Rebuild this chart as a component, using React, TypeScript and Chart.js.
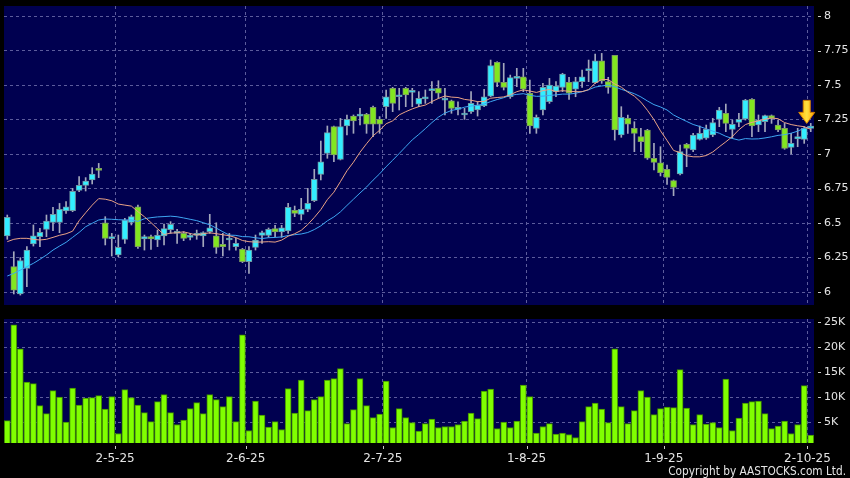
import React, { useEffect, useRef } from 'react';
import { Chart, registerables } from 'chart.js';

Chart.register(...registerables);

// ---- data ----
const opens = [6.406, 6.184, 5.986, 6.171, 6.348, 6.401, 6.454, 6.505, 6.505, 6.587, 6.589, 6.737, 6.773, 6.812, 6.896, 6.502, 6.386, 6.268, 6.382, 6.505,
  6.618, 6.384, 6.401, 6.377, 6.406, 6.452, 6.425, 6.425, 6.396, 6.411, 6.406, 6.437, 6.408, 6.345, 6.377, 6.329, 6.309, 6.220, 6.324, 6.411,
  6.411, 6.459, 6.435, 6.442, 6.592, 6.563, 6.599, 6.662, 6.853, 7.005, 7.198, 6.961, 7.203, 7.275, 7.275, 7.287, 7.338, 7.251, 7.343, 7.476,
  7.415, 7.476, 7.447, 7.362, 7.399, 7.459, 7.476, 7.391, 7.386, 7.324, 7.283, 7.307, 7.319, 7.348, 7.420, 7.664, 7.519, 7.415, 7.548, 7.560,
  7.440, 7.186, 7.319, 7.379, 7.452, 7.483, 7.519, 7.469, 7.524, 7.604, 7.517, 7.676, 7.524, 7.715, 7.138, 7.258, 7.186, 7.126, 7.174, 6.969,
  6.937, 6.889, 6.807, 6.855, 7.070, 7.029, 7.106, 7.114, 7.138, 7.251, 7.295, 7.179, 7.229, 7.254, 7.396, 7.210, 7.234, 7.278, 7.210, 7.186,
  7.048, 7.109, 7.106, 7.186];
const highs = [6.558, 6.292, 6.249, 6.329, 6.486, 6.461, 6.558, 6.614, 6.642, 6.655, 6.751, 6.836, 6.829, 6.901, 6.932, 6.546, 6.425, 6.413, 6.534, 6.558,
  6.630, 6.413, 6.413, 6.449, 6.493, 6.510, 6.454, 6.437, 6.425, 6.449, 6.437, 6.563, 6.502, 6.425, 6.425, 6.389, 6.316, 6.329, 6.413, 6.442,
  6.464, 6.483, 6.483, 6.642, 6.623, 6.679, 6.751, 6.889, 7.094, 7.203, 7.203, 7.258, 7.283, 7.283, 7.331, 7.295, 7.348, 7.271, 7.464, 7.483,
  7.476, 7.483, 7.476, 7.452, 7.464, 7.524, 7.531, 7.476, 7.391, 7.379, 7.331, 7.452, 7.379, 7.469, 7.681, 7.669, 7.657, 7.572, 7.621, 7.621,
  7.536, 7.283, 7.512, 7.548, 7.524, 7.585, 7.556, 7.556, 7.609, 7.681, 7.725, 7.729, 7.556, 7.715, 7.343, 7.283, 7.234, 7.186, 7.179, 7.077,
  7.053, 6.920, 6.812, 7.065, 7.077, 7.150, 7.203, 7.210, 7.258, 7.338, 7.362, 7.246, 7.295, 7.396, 7.401, 7.283, 7.283, 7.283, 7.246, 7.222,
  7.150, 7.186, 7.198, 7.222];
const lows = [6.382, 5.986, 5.978, 6.039, 6.333, 6.329, 6.401, 6.444, 6.430, 6.570, 6.582, 6.727, 6.732, 6.783, 6.829, 6.341, 6.261, 6.256, 6.353, 6.486,
  6.316, 6.304, 6.309, 6.329, 6.341, 6.425, 6.353, 6.372, 6.377, 6.382, 6.329, 6.425, 6.280, 6.261, 6.304, 6.304, 6.213, 6.135, 6.304, 6.353,
  6.396, 6.401, 6.396, 6.425, 6.546, 6.522, 6.582, 6.655, 6.812, 6.969, 6.944, 6.957, 7.138, 7.150, 7.210, 7.150, 7.126, 7.150, 7.258, 7.307,
  7.319, 7.343, 7.343, 7.343, 7.367, 7.367, 7.403, 7.283, 7.295, 7.283, 7.251, 7.295, 7.275, 7.343, 7.415, 7.488, 7.464, 7.403, 7.488, 7.452,
  7.150, 7.150, 7.283, 7.367, 7.415, 7.452, 7.396, 7.415, 7.483, 7.524, 7.512, 7.512, 7.440, 7.101, 7.121, 7.150, 7.017, 7.017, 6.961, 6.884,
  6.841, 6.780, 6.698, 6.848, 6.908, 7.017, 7.101, 7.106, 7.126, 7.198, 7.162, 7.114, 7.198, 7.246, 7.126, 7.162, 7.162, 7.222, 7.162, 7.034,
  7.000, 7.053, 7.077, 7.162];
const closes = [6.541, 6.014, 6.227, 6.304, 6.408, 6.432, 6.514, 6.563, 6.599, 6.618, 6.729, 6.773, 6.804, 6.855, 6.882, 6.389, 6.401, 6.324, 6.522, 6.546,
  6.329, 6.401, 6.384, 6.411, 6.459, 6.490, 6.430, 6.389, 6.406, 6.425, 6.430, 6.466, 6.324, 6.329, 6.391, 6.353, 6.220, 6.304, 6.377, 6.430,
  6.454, 6.435, 6.466, 6.614, 6.570, 6.599, 6.643, 6.816, 6.944, 7.155, 6.993, 7.198, 7.251, 7.239, 7.290, 7.217, 7.217, 7.217, 7.415, 7.367,
  7.425, 7.428, 7.454, 7.403, 7.406, 7.469, 7.440, 7.401, 7.331, 7.338, 7.287, 7.367, 7.355, 7.415, 7.640, 7.519, 7.483, 7.553, 7.560, 7.469,
  7.203, 7.266, 7.483, 7.500, 7.493, 7.580, 7.440, 7.524, 7.560, 7.614, 7.676, 7.529, 7.483, 7.174, 7.266, 7.217, 7.150, 7.089, 6.969, 6.940,
  6.865, 6.831, 6.758, 7.017, 7.041, 7.138, 7.150, 7.179, 7.227, 7.319, 7.222, 7.215, 7.251, 7.391, 7.203, 7.246, 7.278, 7.258, 7.174, 7.041,
  7.077, 7.126, 7.186, 7.203];
// volume in thousands
const volumes = [5.3, 24.5, 19.7, 13.0, 12.7, 8.3, 6.7, 11.3, 10.0, 5.0, 11.8, 8.4, 9.8, 9.9, 10.3, 7.6, 10.1, 2.7, 11.5, 9.9,
  8.4, 6.9, 5.1, 9.1, 10.5, 6.9, 4.5, 5.4, 7.7, 8.9, 6.7, 10.5, 9.5, 8.1, 10.1, 5.1, 22.5, 3.3, 9.2, 6.4,
  4.0, 5.1, 3.5, 11.7, 6.8, 13.4, 7.3, 9.5, 10.1, 13.4, 13.7, 15.7, 4.7, 7.5, 13.7, 8.3, 5.9, 6.6, 13.2, 3.9,
  7.7, 5.9, 4.9, 3.2, 4.7, 5.6, 3.9, 4.1, 4.1, 4.5, 5.2, 6.8, 5.7, 11.2, 11.6, 3.7, 5.0, 3.9, 5.2, 12.4,
  10.1, 2.8, 4.1, 4.7, 2.6, 2.8, 2.5, 1.9, 5.1, 8.1, 8.8, 7.6, 4.9, 19.7, 8.1, 4.7, 7.3, 11.3, 10.0, 6.5,
  7.7, 8.0, 7.9, 15.5, 7.8, 4.5, 6.5, 4.6, 4.9, 3.9, 13.6, 3.3, 5.8, 8.8, 9.1, 9.2, 6.7, 3.7, 4.2, 5.2,
  2.7, 4.5, 12.3, 2.4];
// moving-average values at the window start (earlier closes are off-chart)
const ma10Head = [6.365, 6.382, 6.389, 6.389, 6.382, 6.377, 6.382, 6.396, 6.411];
const ma20Head = [6.116, 6.135, 6.159, 6.184, 6.208, 6.237, 6.268, 6.304, 6.333, 6.360, 6.396, 6.432, 6.473, 6.498, 6.522, 6.529, 6.527, 6.524, 6.522];

const tickIndex = [17, 37, 58, 80, 101, 123];
const tickText = ['2-5-25', '2-6-25', '2-7-25', '1-8-25', '1-9-25', '2-10-25'];
const priceTicks = [6, 6.25, 6.5, 6.75, 7, 7.25, 7.5, 7.75, 8];
const volumeTicks = [5, 10, 15, 20, 25];

// ---- styles ----
const NAVY = '#000050';
const GRID = '#5c5c9c';
const TEXT = '#e4e4e4';
const UP = '#33eeff';
const UP_EDGE = '#6f97a3';
const DOWN = '#82e620';
const DOWN_EDGE = '#7d9a62';
const WICK = '#a4a8bc';
const FONT = '"DejaVu Sans", sans-serif';

function movingAverage(n: number, head: number[]) {
  return closes.map((_, i) => {
    if (i < head.length) return head[i];
    let s = 0;
    for (let k = i - n + 1; k <= i; k++) s += closes[k];
    return s / n;
  });
}

const navyBg = {
  id: 'navyBg',
  beforeDraw(chart: any) {
    const { ctx, chartArea: a } = chart;
    ctx.save();
    ctx.fillStyle = NAVY;
    ctx.fillRect(a.left, a.top, a.right - a.left, a.bottom - a.top);
    ctx.restore();
  },
};

const yDashes = {
  id: 'yDashes',
  afterDraw(chart: any) {
    const { ctx, chartArea: a } = chart;
    const ys = chart.scales.y;
    ctx.save();
    ctx.strokeStyle = '#c8c8c8';
    ctx.lineWidth = 1;
    ys.ticks.forEach((t: any) => {
      const py = Math.round(ys.getPixelForValue(t.value)) + 0.5;
      ctx.beginPath();
      ctx.moveTo(a.right + 4, py);
      ctx.lineTo(a.right + 7, py);
      ctx.stroke();
    });
    ctx.restore();
  },
};

const xDashes = {
  id: 'xDashes',
  afterDraw(chart: any) {
    const { ctx, chartArea: a } = chart;
    const xs = chart.scales.x;
    ctx.save();
    ctx.strokeStyle = '#c8c8c8';
    ctx.lineWidth = 1;
    xs.ticks.forEach((t: any) => {
      const px = Math.round(xs.getPixelForValue(t.value)) + 0.5;
      ctx.beginPath();
      ctx.moveTo(px, a.bottom + 3);
      ctx.lineTo(px, a.bottom + 6);
      ctx.stroke();
    });
    ctx.restore();
  },
};

const arrowMark = {
  id: 'arrowMark',
  afterDatasetsDraw(chart: any) {
    const { ctx } = chart;
    const xs = chart.scales.x;
    const ys = chart.scales.y;
    const i = closes.length - 1;
    const cx = xs.getPixelForValue(i) - 4;
    const tip = ys.getPixelForValue(highs[i]);
    ctx.save();
    const g = ctx.createLinearGradient(cx - 8, 0, cx + 8, 0);
    g.addColorStop(0, '#ffb000');
    g.addColorStop(0.5, '#ffe040');
    g.addColorStop(1, '#ffa000');
    ctx.beginPath();
    ctx.moveTo(cx - 3.5, tip - 23);
    ctx.lineTo(cx + 3.5, tip - 23);
    ctx.lineTo(cx + 3.5, tip - 11);
    ctx.lineTo(cx + 8, tip - 11);
    ctx.lineTo(cx, tip);
    ctx.lineTo(cx - 8, tip - 11);
    ctx.lineTo(cx - 3.5, tip - 11);
    ctx.closePath();
    ctx.fillStyle = g;
    ctx.fill();
    ctx.strokeStyle = '#d88400';
    ctx.lineWidth = 1;
    ctx.stroke();
    ctx.restore();
  },
};

const xMonthTicks = (s: any) => {
  s.ticks = tickIndex.map((v) => ({ value: v - 0.5 }));
};

const gridOpts = { color: GRID, drawTicks: false, lineWidth: 1, offset: false };

export default function App() {
  const priceRef = useRef<HTMLCanvasElement | null>(null);
  const volRef = useRef<HTMLCanvasElement | null>(null);

  useEffect(() => {
    const ma10 = movingAverage(10, ma10Head);
    const ma20 = movingAverage(20, ma20Head);
    const isUp = closes.map((c, i) => c >= opens[i]);

    const price = new Chart(priceRef.current as HTMLCanvasElement, {
      type: 'bar',
      data: {
        datasets: [
          {
            type: 'line',
            data: ma10.map((y, i) => ({ x: i, y })),
            borderColor: '#eaa386',
            borderWidth: 1,
            pointRadius: 0,
            tension: 0,
            order: 0,
          } as any,
          {
            type: 'line',
            data: ma20.map((y, i) => ({ x: i, y })),
            borderColor: '#3ea6f2',
            borderWidth: 1,
            pointRadius: 0,
            tension: 0,
            order: 0,
          } as any,
          {
            type: 'bar',
            data: opens.map((o, i) => ({ x: i, y: [Math.min(o, closes[i]), Math.max(o, closes[i])] })),
            backgroundColor: isUp.map((u) => (u ? UP : DOWN)),
            borderColor: isUp.map((u) => (u ? UP_EDGE : DOWN_EDGE)),
            borderWidth: 1,
            borderSkipped: false,
            barThickness: 6,
            minBarLength: 2,
            grouped: false,
            order: 1,
          } as any,
          {
            type: 'bar',
            data: lows.map((l, i) => ({ x: i, y: [l, highs[i]] })),
            backgroundColor: WICK,
            borderWidth: 0,
            barThickness: 1,
            grouped: false,
            order: 2,
          } as any,
        ],
      },
      options: {
        animation: false,
        responsive: false,
        maintainAspectRatio: false,
        events: [],
        layout: { padding: { left: 4, top: 6, right: 0, bottom: 7 } },
        plugins: { legend: { display: false }, tooltip: { enabled: false } },
        scales: {
          x: {
            type: 'linear',
            offset: false,
            min: -0.5,
            max: closes.length - 0.5,
            afterBuildTicks: xMonthTicks,
            ticks: { display: false },
            grid: gridOpts,
            border: { display: false, dash: [3, 3] },
          },
          y: {
            position: 'right',
            min: 5.906,
            max: 8.0725,
            afterBuildTicks: (s: any) => {
              s.ticks = priceTicks.map((v) => ({ value: v }));
            },
            afterFit: (s: any) => {
              s.width = 36;
              s.paddingTop = 0;
              s.paddingBottom = 0;
            },
            ticks: {
              color: TEXT,
              padding: 10,
              font: { family: FONT, size: 11 },
              callback: (v: any) => String(v),
            },
            grid: gridOpts,
            border: { display: false, dash: [3, 3] },
          },
        },
      } as any,
      plugins: [navyBg, yDashes, arrowMark],
    });

    const vol = new Chart(volRef.current as HTMLCanvasElement, {
      type: 'bar',
      data: {
        datasets: [
          {
            data: volumes.map((v, i) => ({ x: i, y: v })),
            backgroundColor: '#80ff00',
            borderColor: '#3f8a00',
            borderWidth: 1,
            borderSkipped: false,
            barThickness: 6,
            grouped: false,
          } as any,
        ],
      },
      options: {
        animation: false,
        responsive: false,
        maintainAspectRatio: false,
        events: [],
        layout: { padding: { left: 4, top: 7, right: 0, bottom: 0 } },
        plugins: { legend: { display: false }, tooltip: { enabled: false } },
        scales: {
          x: {
            type: 'linear',
            offset: false,
            min: -0.5,
            max: closes.length - 0.5,
            afterBuildTicks: xMonthTicks,
            afterFit: (s: any) => {
              s.height = 35;
              s.paddingLeft = 0;
              s.paddingRight = 0;
            },
            ticks: {
              color: TEXT,
              padding: 9,
              maxRotation: 0,
              autoSkip: false,
              font: { family: FONT, size: 12 },
              callback: (v: any) => {
                const k = tickIndex.indexOf(Math.round(v + 0.5));
                return k >= 0 ? tickText[k] : '';
              },
            },
            grid: gridOpts,
            border: { display: false, dash: [3, 3] },
          },
          y: {
            position: 'right',
            min: 0.8,
            max: 25.66,
            afterBuildTicks: (s: any) => {
              s.ticks = volumeTicks.map((v) => ({ value: v }));
            },
            afterFit: (s: any) => {
              s.width = 36;
              s.paddingTop = 0;
              s.paddingBottom = 0;
            },
            ticks: {
              color: TEXT,
              padding: 10,
              font: { family: FONT, size: 11 },
              callback: (v: any) => v + 'K',
            },
            grid: gridOpts,
            border: { display: false, dash: [3, 3] },
          },
        },
      } as any,
      plugins: [navyBg, yDashes, xDashes],
    });

    return () => {
      price.destroy();
      vol.destroy();
    };
  }, []);

  return (
    <div
      style={{
        position: 'fixed',
        left: 0,
        top: 0,
        width: 850,
        height: 478,
        background: '#000',
        overflow: 'hidden',
      }}
    >
      <canvas
        ref={priceRef}
        width={850}
        height={312}
        style={{ position: 'absolute', left: 0, top: 0, width: 850, height: 312, display: 'block' }}
      />
      <canvas
        ref={volRef}
        width={850}
        height={166}
        style={{ position: 'absolute', left: 0, top: 312, width: 850, height: 166, display: 'block' }}
      />
      <div
        style={{
          position: 'absolute',
          right: 4,
          top: 464,
          fontFamily: FONT,
          fontSize: 12,
          lineHeight: '14px',
          color: TEXT,
          whiteSpace: 'nowrap',
          transform: 'scaleX(0.88)',
          transformOrigin: 'right center',
        }}
      >
        Copyright by AASTOCKS.com Ltd.
      </div>
    </div>
  );
}
